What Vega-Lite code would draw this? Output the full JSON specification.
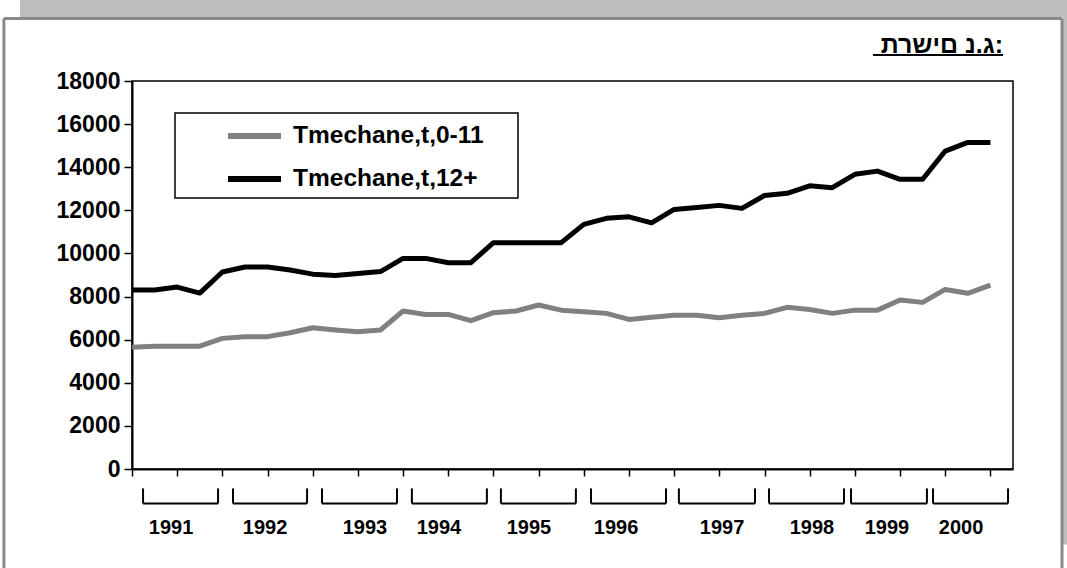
{
  "$schema": "https://vega.github.io/schema/vega-lite/v6.json",
  "width": 881,
  "height": 388,
  "autosize": {"type": "none"},
  "padding": {"left": 132, "top": 81, "right": 54, "bottom": 99},
  "background": "white",
  "title": {
    "text": "\u202Dתרשים נ.ג:\u202C",
    "anchor": "end",
    "orient": "top",
    "frame": "group",
    "offset": -58,
    "dx": -10,
    "font": "Liberation Sans",
    "fontSize": 25,
    "fontWeight": "bold",
    "color": "black"
  },
  "config": {
    "font": "Liberation Sans",
    "view": {"stroke": "black", "strokeWidth": 1.5},
    "axis": {
      "grid": false,
      "title": null,
      "domainColor": "black",
      "domainWidth": 2,
      "tickColor": "black",
      "tickWidth": 1.5,
      "labelColor": "black",
      "labelFont": "Liberation Sans",
      "labelFontWeight": "bold"
    },
    "legend": {
      "orient": "none",
      "legendX": 43,
      "legendY": 32,
      "strokeColor": "black",
      "strokeWidth": 1.5,
      "fillColor": "white",
      "padding": 6.5,
      "symbolType": "M-2,0H2",
      "symbolSize": 702,
      "symbolStrokeWidth": 6,
      "labelFont": "Liberation Sans",
      "labelFontSize": 24.5,
      "labelFontWeight": "bold",
      "labelColor": "black",
      "labelOffset": 22,
      "symbolOffset": 56.5,
      "rowPadding": 14,
      "labelLimit": 500,
      "titleOrient": "right",
      "titlePadding": 28,
      "titleFontSize": 24
    }
  },
  "datasets": {
    "quarterly": [
      {"q": 0, "period": "1991Q1", "series": "Tmechane,t,0-11", "value": 5650},
      {"q": 1, "period": "1991Q2", "series": "Tmechane,t,0-11", "value": 5700},
      {"q": 2, "period": "1991Q3", "series": "Tmechane,t,0-11", "value": 5700},
      {"q": 3, "period": "1991Q4", "series": "Tmechane,t,0-11", "value": 5700},
      {"q": 4, "period": "1992Q1", "series": "Tmechane,t,0-11", "value": 6060},
      {"q": 5, "period": "1992Q2", "series": "Tmechane,t,0-11", "value": 6140},
      {"q": 6, "period": "1992Q3", "series": "Tmechane,t,0-11", "value": 6140},
      {"q": 7, "period": "1992Q4", "series": "Tmechane,t,0-11", "value": 6320},
      {"q": 8, "period": "1993Q1", "series": "Tmechane,t,0-11", "value": 6550},
      {"q": 9, "period": "1993Q2", "series": "Tmechane,t,0-11", "value": 6450},
      {"q": 10, "period": "1993Q3", "series": "Tmechane,t,0-11", "value": 6370},
      {"q": 11, "period": "1993Q4", "series": "Tmechane,t,0-11", "value": 6450},
      {"q": 12, "period": "1994Q1", "series": "Tmechane,t,0-11", "value": 7330},
      {"q": 13, "period": "1994Q2", "series": "Tmechane,t,0-11", "value": 7170},
      {"q": 14, "period": "1994Q3", "series": "Tmechane,t,0-11", "value": 7170},
      {"q": 15, "period": "1994Q4", "series": "Tmechane,t,0-11", "value": 6880},
      {"q": 16, "period": "1995Q1", "series": "Tmechane,t,0-11", "value": 7250},
      {"q": 17, "period": "1995Q2", "series": "Tmechane,t,0-11", "value": 7330},
      {"q": 18, "period": "1995Q3", "series": "Tmechane,t,0-11", "value": 7610},
      {"q": 19, "period": "1995Q4", "series": "Tmechane,t,0-11", "value": 7370},
      {"q": 20, "period": "1996Q1", "series": "Tmechane,t,0-11", "value": 7300},
      {"q": 21, "period": "1996Q2", "series": "Tmechane,t,0-11", "value": 7220},
      {"q": 22, "period": "1996Q3", "series": "Tmechane,t,0-11", "value": 6940},
      {"q": 23, "period": "1996Q4", "series": "Tmechane,t,0-11", "value": 7040},
      {"q": 24, "period": "1997Q1", "series": "Tmechane,t,0-11", "value": 7130},
      {"q": 25, "period": "1997Q2", "series": "Tmechane,t,0-11", "value": 7130},
      {"q": 26, "period": "1997Q3", "series": "Tmechane,t,0-11", "value": 7020},
      {"q": 27, "period": "1997Q4", "series": "Tmechane,t,0-11", "value": 7130},
      {"q": 28, "period": "1998Q1", "series": "Tmechane,t,0-11", "value": 7220},
      {"q": 29, "period": "1998Q2", "series": "Tmechane,t,0-11", "value": 7500},
      {"q": 30, "period": "1998Q3", "series": "Tmechane,t,0-11", "value": 7400},
      {"q": 31, "period": "1998Q4", "series": "Tmechane,t,0-11", "value": 7220},
      {"q": 32, "period": "1999Q1", "series": "Tmechane,t,0-11", "value": 7370},
      {"q": 33, "period": "1999Q2", "series": "Tmechane,t,0-11", "value": 7370},
      {"q": 34, "period": "1999Q3", "series": "Tmechane,t,0-11", "value": 7840},
      {"q": 35, "period": "1999Q4", "series": "Tmechane,t,0-11", "value": 7730},
      {"q": 36, "period": "2000Q1", "series": "Tmechane,t,0-11", "value": 8330},
      {"q": 37, "period": "2000Q2", "series": "Tmechane,t,0-11", "value": 8150},
      {"q": 38, "period": "2000Q3", "series": "Tmechane,t,0-11", "value": 8530},
      {"q": 0, "period": "1991Q1", "series": "Tmechane,t,12+", "value": 8300},
      {"q": 1, "period": "1991Q2", "series": "Tmechane,t,12+", "value": 8300},
      {"q": 2, "period": "1991Q3", "series": "Tmechane,t,12+", "value": 8440},
      {"q": 3, "period": "1991Q4", "series": "Tmechane,t,12+", "value": 8160},
      {"q": 4, "period": "1992Q1", "series": "Tmechane,t,12+", "value": 9140},
      {"q": 5, "period": "1992Q2", "series": "Tmechane,t,12+", "value": 9370},
      {"q": 6, "period": "1992Q3", "series": "Tmechane,t,12+", "value": 9370},
      {"q": 7, "period": "1992Q4", "series": "Tmechane,t,12+", "value": 9230},
      {"q": 8, "period": "1993Q1", "series": "Tmechane,t,12+", "value": 9040},
      {"q": 9, "period": "1993Q2", "series": "Tmechane,t,12+", "value": 8980},
      {"q": 10, "period": "1993Q3", "series": "Tmechane,t,12+", "value": 9070},
      {"q": 11, "period": "1993Q4", "series": "Tmechane,t,12+", "value": 9160},
      {"q": 12, "period": "1994Q1", "series": "Tmechane,t,12+", "value": 9770},
      {"q": 13, "period": "1994Q2", "series": "Tmechane,t,12+", "value": 9770},
      {"q": 14, "period": "1994Q3", "series": "Tmechane,t,12+", "value": 9570},
      {"q": 15, "period": "1994Q4", "series": "Tmechane,t,12+", "value": 9570},
      {"q": 16, "period": "1995Q1", "series": "Tmechane,t,12+", "value": 10500},
      {"q": 17, "period": "1995Q2", "series": "Tmechane,t,12+", "value": 10500},
      {"q": 18, "period": "1995Q3", "series": "Tmechane,t,12+", "value": 10500},
      {"q": 19, "period": "1995Q4", "series": "Tmechane,t,12+", "value": 10500},
      {"q": 20, "period": "1996Q1", "series": "Tmechane,t,12+", "value": 11350},
      {"q": 21, "period": "1996Q2", "series": "Tmechane,t,12+", "value": 11630},
      {"q": 22, "period": "1996Q3", "series": "Tmechane,t,12+", "value": 11700},
      {"q": 23, "period": "1996Q4", "series": "Tmechane,t,12+", "value": 11420},
      {"q": 24, "period": "1997Q1", "series": "Tmechane,t,12+", "value": 12040},
      {"q": 25, "period": "1997Q2", "series": "Tmechane,t,12+", "value": 12130},
      {"q": 26, "period": "1997Q3", "series": "Tmechane,t,12+", "value": 12230},
      {"q": 27, "period": "1997Q4", "series": "Tmechane,t,12+", "value": 12090},
      {"q": 28, "period": "1998Q1", "series": "Tmechane,t,12+", "value": 12690},
      {"q": 29, "period": "1998Q2", "series": "Tmechane,t,12+", "value": 12790},
      {"q": 30, "period": "1998Q3", "series": "Tmechane,t,12+", "value": 13140},
      {"q": 31, "period": "1998Q4", "series": "Tmechane,t,12+", "value": 13050},
      {"q": 32, "period": "1999Q1", "series": "Tmechane,t,12+", "value": 13670},
      {"q": 33, "period": "1999Q2", "series": "Tmechane,t,12+", "value": 13820},
      {"q": 34, "period": "1999Q3", "series": "Tmechane,t,12+", "value": 13440},
      {"q": 35, "period": "1999Q4", "series": "Tmechane,t,12+", "value": 13440},
      {"q": 36, "period": "2000Q1", "series": "Tmechane,t,12+", "value": 14750},
      {"q": 37, "period": "2000Q2", "series": "Tmechane,t,12+", "value": 15150},
      {"q": 38, "period": "2000Q3", "series": "Tmechane,t,12+", "value": 15150}
    ],
    "years": [
      {"year": "1991", "from_q": 0.49, "to_q": 3.81, "label_q": 1.73},
      {"year": "1992", "from_q": 4.47, "to_q": 7.75, "label_q": 5.89},
      {"year": "1993", "from_q": 8.41, "to_q": 11.73, "label_q": 10.31},
      {"year": "1994", "from_q": 12.39, "to_q": 15.71, "label_q": 13.59},
      {"year": "1995", "from_q": 16.33, "to_q": 19.65, "label_q": 17.57},
      {"year": "1996", "from_q": 20.32, "to_q": 23.64, "label_q": 21.43},
      {"year": "1997", "from_q": 24.21, "to_q": 27.58, "label_q": 26.12},
      {"year": "1998", "from_q": 28.2, "to_q": 31.52, "label_q": 30.1},
      {"year": "1999", "from_q": 31.83, "to_q": 35.19, "label_q": 33.42},
      {"year": "2000", "from_q": 35.46, "to_q": 38.78, "label_q": 36.7}
    ],
    "one": [{"k": 1}]
  },
  "layer": [
    {
      "data": {"name": "one"},
      "mark": {"type": "rect", "fill": "#bdbdbd"},
      "encoding": {
        "x": {"datum": -4.96, "type": "quantitative"},
        "x2": {"datum": 41.6},
        "y": {"datum": 20969, "type": "quantitative"},
        "y2": {"datum": 21757}
      }
    },
    {
      "data": {"name": "one"},
      "mark": {"type": "rect", "fill": "#bdbdbd"},
      "encoding": {
        "x": {"datum": 41.2, "type": "quantitative"},
        "x2": {"datum": 41.6},
        "y": {"datum": -3500, "type": "quantitative"},
        "y2": {"datum": 21757}
      }
    },
    {
      "data": {"name": "one"},
      "mark": {"type": "rule", "color": "#8a8a8a", "strokeWidth": 3},
      "encoding": {
        "x": {"datum": -5.67, "type": "quantitative"},
        "x2": {"datum": 41.17},
        "y": {"datum": 20899, "type": "quantitative"}
      }
    },
    {
      "data": {"name": "one"},
      "mark": {"type": "rule", "color": "#8a8a8a", "strokeWidth": 3},
      "encoding": {
        "x": {"datum": -5.67, "type": "quantitative"},
        "y": {"datum": 20899, "type": "quantitative"},
        "y2": {"datum": -5000}
      }
    },
    {
      "data": {"name": "one"},
      "mark": {"type": "rule", "color": "#8a8a8a", "strokeWidth": 3},
      "encoding": {
        "x": {"datum": 41.17, "type": "quantitative"},
        "y": {"datum": 20899, "type": "quantitative"},
        "y2": {"datum": -5000}
      }
    },
    {
      "data": {"name": "one"},
      "mark": {"type": "rule", "color": "black", "strokeWidth": 2},
      "encoding": {
        "x": {"datum": 32.8, "type": "quantitative"},
        "x2": {"datum": 38.56},
        "y": {"datum": 19206, "type": "quantitative"}
      }
    },
    {
      "data": {"name": "quarterly"},
      "mark": {"type": "line", "strokeWidth": 5, "strokeJoin": "round", "strokeCap": "butt"},
      "encoding": {
        "x": {
          "field": "q",
          "type": "quantitative",
          "scale": {"domain": [0, 39], "nice": false, "zero": false},
          "axis": {
            "values": [0,1,2,3,4,5,6,7,8,9,10,11,12,13,14,15,16,17,18,19,20,21,22,23,24,25,26,27,28,29,30,31,32,33,34,35,36,37,38,39],
            "labels": false,
            "tickSize": 7
          }
        },
        "y": {
          "field": "value",
          "type": "quantitative",
          "scale": {"domain": [0, 18000], "nice": false},
          "axis": {
            "values": [0,2000,4000,6000,8000,10000,12000,14000,16000,18000],
            "format": "d",
            "labelFontSize": 23,
            "tickSize": 8,
            "labelPadding": 4
          }
        },
        "color": {
          "field": "series",
          "type": "nominal",
          "scale": {"domain": ["Tmechane,t,0-11", "Tmechane,t,12+"], "range": ["#808080", "#000000"]},
          "legend": {"title": "\u00a0"}
        },
        "order": {"field": "q", "type": "quantitative"}
      }
    },
    {
      "data": {"name": "years"},
      "mark": {"type": "rule", "color": "black", "strokeWidth": 2},
      "encoding": {
        "x": {"field": "from_q", "type": "quantitative"},
        "x2": {"field": "to_q"},
        "y": {"datum": -1600}
      }
    },
    {
      "data": {"name": "years"},
      "mark": {"type": "rule", "color": "black", "strokeWidth": 2},
      "encoding": {
        "x": {"field": "from_q", "type": "quantitative"},
        "y": {"datum": -900},
        "y2": {"datum": -1600}
      }
    },
    {
      "data": {"name": "years"},
      "mark": {"type": "rule", "color": "black", "strokeWidth": 2},
      "encoding": {
        "x": {"field": "to_q", "type": "quantitative"},
        "y": {"datum": -900},
        "y2": {"datum": -1600}
      }
    },
    {
      "data": {"name": "years"},
      "mark": {"type": "text", "font": "Liberation Sans", "fontSize": 20, "fontWeight": "bold", "color": "black", "baseline": "middle", "align": "center"},
      "encoding": {
        "x": {"field": "label_q", "type": "quantitative"},
        "y": {"datum": -2750},
        "text": {"field": "year"}
      }
    }
  ]
}
